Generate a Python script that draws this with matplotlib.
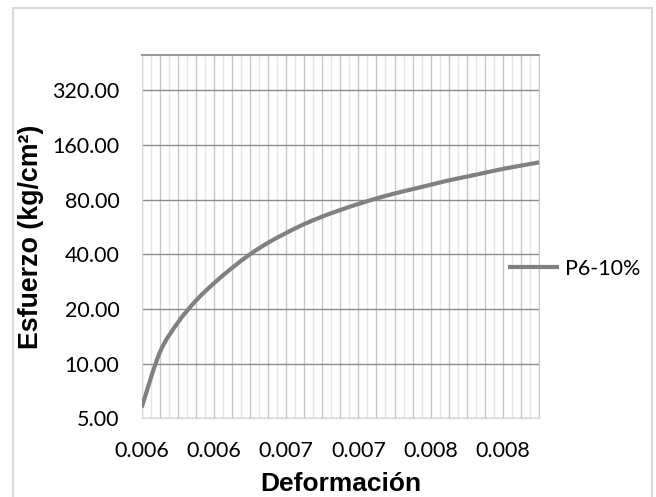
import numpy as np
import matplotlib.pyplot as plt
from matplotlib.patches import Rectangle, PathPatch
from matplotlib.path import Path
from matplotlib.lines import Line2D
from matplotlib.ticker import FuncFormatter

# Curva esfuerzo-deformación, probeta P6-10%
deformacion = [0.005800, 0.005925, 0.006050, 0.006175, 0.006300, 0.006425,
               0.006550, 0.006675, 0.006800, 0.006925, 0.007050, 0.007175,
               0.007300, 0.007425, 0.007550, 0.007675, 0.007800, 0.007925,
               0.008050, 0.008175, 0.008300, 0.008425, 0.008550]
esfuerzo = [5.74, 11.5, 16.8, 22.2, 27.7, 33.6, 40.0, 46.3, 52.4, 58.6, 64.5,
            70.1, 75.7, 81.1, 86.4, 91.3, 96.5, 102.0, 107.0, 112.4, 118.0,
            123.0, 128.2]
serie = 'P6-10%'

y_ticks = [5, 10, 20, 40, 80, 160, 320]
y_max = 500
label_every = 4

fig = plt.figure(figsize=(6.56, 4.97), dpi=100)
ax = fig.add_axes([141.7 / 656, 78.7 / 497, 397.3 / 656, 363.3 / 497])
ax.set_yscale('log', base=2)


def smooth_path(xs, ys):
    # línea suavizada (Catmull-Rom -> Bézier) calculada en el espacio log2
    x = np.asarray(xs, float)
    ly = np.log2(np.asarray(ys, float))
    xs_n = (x - x[0]) / (x[-1] - x[0])
    ly_n = ly / 10.0
    pts = np.column_stack([xs_n, ly_n])
    verts = [pts[0]]
    codes = [Path.MOVETO]
    n = len(pts)
    for i in range(n - 1):
        p0 = pts[max(i - 1, 0)]
        p1 = pts[i]
        p2 = pts[i + 1]
        p3 = pts[min(i + 2, n - 1)]
        c1 = p1 + (p2 - p0) / 6.0
        c2 = p2 - (p3 - p1) / 6.0
        verts += [c1, c2, p2]
        codes += [Path.CURVE4] * 3
    v = np.array(verts)
    out = np.column_stack([x[0] + v[:, 0] * (x[-1] - x[0]), 2.0 ** (v[:, 1] * 10.0)])
    return Path(out, codes)


curve = PathPatch(smooth_path(deformacion, esfuerzo), fill=False,
                  edgecolor='#808080', lw=3.0, capstyle='butt', zorder=3)
ax.add_patch(curve)
ax.update_datalim(np.column_stack([deformacion, esfuerzo]))

ax.set_ylim(y_ticks[0], y_max)
ax.set_yticks(y_ticks)
ax.yaxis.set_major_formatter(FuncFormatter(lambda v, p: f'{v:.2f}'))
ax.yaxis.set_minor_locator(plt.NullLocator())

ax.set_xlim(deformacion[0], deformacion[-1])
ax.set_xticks(deformacion)
ax.set_xticklabels([f'{x:.3f}' if i % label_every == 0 else ''
                    for i, x in enumerate(deformacion)])
mids = [(a + b) / 2 for a, b in zip(deformacion[:-1], deformacion[1:])]
ax.set_xticks(mids, minor=True)

tick_font = 'Lato'
ax.tick_params(axis='both', which='both', length=0, labelsize=15.5,
               colors='#000000')
ax.tick_params(axis='y', pad=16)
ax.tick_params(axis='x', pad=16)
for lab in ax.get_xticklabels() + ax.get_yticklabels():
    lab.set_family(tick_font)

ax.grid(True, axis='y', which='major', color='#8c8c8c', lw=1.0)
ax.grid(True, axis='x', which='major', color='#c8c8c8', lw=1.0)
ax.grid(True, axis='x', which='minor', color='#e6e6e6', lw=1.0)
ax.set_axisbelow(True)

ax.spines['top'].set_color('#999999')
ax.spines['top'].set_linewidth(1.5)
ax.spines['left'].set_color('#d9d9d9')
ax.spines['bottom'].set_color('#d9d9d9')
ax.spines['right'].set_color('#c8c8c8')
for s in ax.spines.values():
    s.set_zorder(1)

ax.set_xlabel('Deformación', family='Liberation Sans', weight='bold',
              fontsize=19, labelpad=8)
ax.set_ylabel('Esfuerzo (kg/cm²)', family='Liberation Sans', weight='bold',
              fontsize=19.3, labelpad=6)

handle = Line2D([], [], color='#808080', lw=3.0, solid_capstyle='butt')
leg = ax.legend([handle], [serie], loc='center left',
                bbox_to_anchor=(0.922, 0.411), frameon=False,
                borderpad=0, borderaxespad=0,
                handlelength=2.35, handletextpad=0.3,
                prop={'family': tick_font, 'size': 15.5})

# marco exterior del gráfico
fig.patches.append(Rectangle((13 / 656, -0.02), 639 / 656, 1.02 - 8 / 497,
                             transform=fig.transFigure, fill=False,
                             edgecolor='#d9d9d9', lw=1.5))

fig.savefig('out.png', dpi=100)
